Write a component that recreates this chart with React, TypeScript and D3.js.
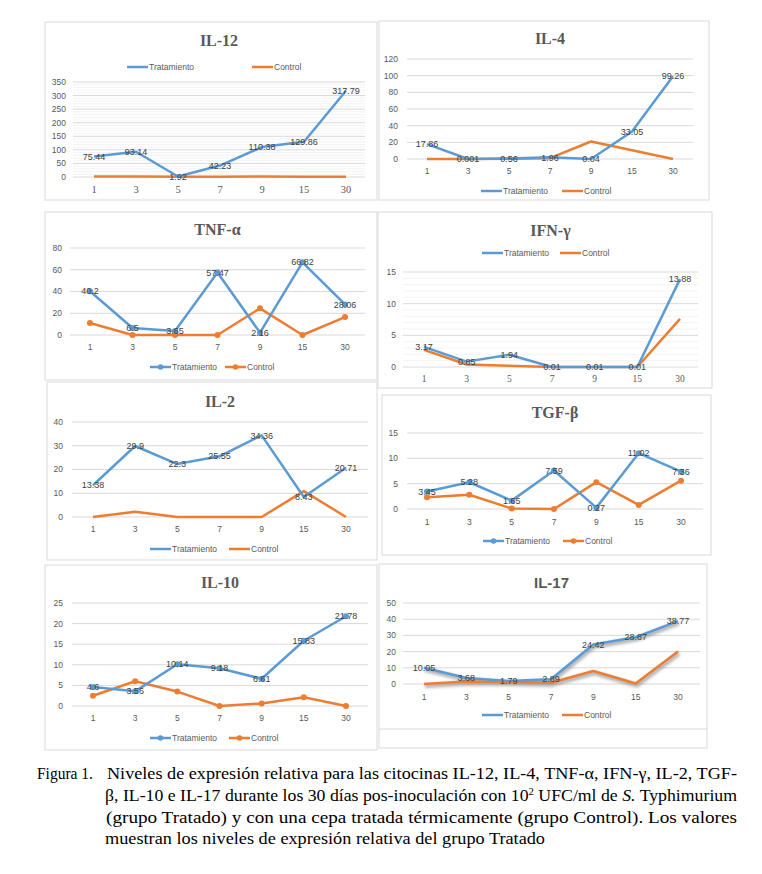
import React from "react";
import * as d3 from "d3";

const days = ["1", "3", "5", "7", "9", "15", "30"];

const il12Trat = [75.44, 93.14, 1.92, 42.23, 110.38, 129.86, 317.79];
const il12Ctrl = [2, 1.5, 1, 1, 1.5, 1, 0.5];
const il12Labels = ["75.44", "93.14", "1.92", "42.23", "110.38", "129.86", "317.79"];

const il4Trat = [17.86, 0.001, 0.56, 1.96, 0.04, 33.05, 99.26];
const il4Ctrl = [0, 0, 0.4, 1, 21, 10.5, 0];
const il4Labels = ["17.86", "0.001", "0.56", "1.96", "0.04", "33.05", "99.26"];

const tnfTrat = [40.2, 6.5, 3.65, 57.47, 2.16, 66.82, 28.06];
const tnfCtrl = [11, 0, 0, 0, 24.5, 0, 16.5];
const tnfLabels = ["40.2", "6.5", "3.65", "57.47", "2.16", "66.82", "28.06"];

const ifnTrat = [3.17, 0.85, 1.94, 0.01, 0.01, 0.01, 13.88];
const ifnCtrl = [2.7, 0.4, 0.2, 0, 0, 0, 7.6];
const ifnLabels = ["3.17", "0.85", "1.94", "0.01", "0.01", "0.01", "13.88"];

const il2Trat = [13.38, 29.9, 22.3, 25.55, 34.36, 8.43, 20.71];
const il2Ctrl = [0, 2.2, 0, 0, 0, 10.9, 0];
const il2Labels = ["13.38", "29.9", "22.3", "25.55", "34.36", "8.43", "20.71"];

const tgfTrat = [3.45, 5.28, 1.65, 7.59, 0.27, 11.02, 7.36];
const tgfCtrl = [2.3, 2.8, 0.1, 0, 5.3, 0.8, 5.6];
const tgfLabels = ["3.45", "5.28", "1.65", "7.59", "0.27", "11.02", "7.36"];

const il10Trat = [4.6, 3.56, 10.14, 9.18, 6.61, 15.83, 21.78];
const il10Ctrl = [2.5, 6, 3.5, 0, 0.6, 2.1, 0];
const il10Labels = ["4.6", "3.56", "10.14", "9.18", "6.61", "15.83", "21.78"];

const il17Trat = [10.05, 3.68, 1.79, 2.89, 24.42, 28.87, 38.77];
const il17Ctrl = [0, 1.5, 1.3, 0.8, 8, 0.3, 20];
const il17Labels = ["10.05", "3.68", "1.79", "2.89", "24.42", "28.87", "38.77"];

const BLUE = "#5b9bd5";
const ORANGE = "#ed7d31";
const GRID = "#d9d9d9";
const TXT = "#595959";
const SANS = "'Liberation Sans', Arial, sans-serif";
const SERIF = "'Liberation Serif', 'Times New Roman', serif";

type Panel = {
  title: string;
  titleFont: string;
  box: [number, number, number, number];
  extraLine?: number;
  titleY: number;
  yRange: [number, number];
  yMax: number;
  step: number;
  minor?: number;
  grid: [number, number];
  cat: [number, number];
  xLabelY: number;
  xLabelFont: string;
  xLabelSize: number;
  yLabelX: number;
  legendY: number;
  legendX: [number, number];
  markers: boolean;
  shadow: boolean;
  trat: number[];
  ctrl: number[];
  labels: string[];
};

const panels: Panel[] = [
  { title: "IL-12", titleFont: SERIF, box: [45, 22, 377, 200], titleY: 40, yRange: [177, 82], yMax: 350, step: 50, minor: 10,
    grid: [73, 365], cat: [94, 346], xLabelY: 189, xLabelFont: SERIF, xLabelSize: 10.5, yLabelX: 66, legendY: 67, legendX: [127, 252],
    markers: false, shadow: false, trat: il12Trat, ctrl: il12Ctrl, labels: il12Labels },
  { title: "IL-4", titleFont: SERIF, box: [379, 21, 709, 200], titleY: 38, yRange: [159, 59], yMax: 120, step: 20,
    grid: [407, 693], cat: [427, 673], xLabelY: 171, xLabelFont: SANS, xLabelSize: 8.5, yLabelX: 398, legendY: 191, legendX: [481, 562],
    markers: false, shadow: false, trat: il4Trat, ctrl: il4Ctrl, labels: il4Labels },
  { title: "TNF-α", titleFont: SERIF, box: [45, 212, 377, 380], titleY: 229, yRange: [335, 248], yMax: 80, step: 20,
    grid: [70, 365], cat: [90, 345], xLabelY: 347, xLabelFont: SANS, xLabelSize: 8.5, yLabelX: 62, legendY: 367, legendX: [150, 225],
    markers: true, shadow: false, trat: tnfTrat, ctrl: tnfCtrl, labels: tnfLabels },
  { title: "IFN-γ", titleFont: SERIF, box: [378, 212, 712, 388], titleY: 230, yRange: [367, 272], yMax: 15, step: 5, minor: 1,
    grid: [403, 698], cat: [424, 680], xLabelY: 379, xLabelFont: SERIF, xLabelSize: 9.5, yLabelX: 396, legendY: 253, legendX: [482, 560],
    markers: false, shadow: false, trat: ifnTrat, ctrl: ifnCtrl, labels: ifnLabels },
  { title: "IL-2", titleFont: SERIF, box: [47, 382, 377, 560], titleY: 401, yRange: [517, 422], yMax: 40, step: 10,
    grid: [72, 368], cat: [93, 346], xLabelY: 529, xLabelFont: SANS, xLabelSize: 8.5, yLabelX: 63, legendY: 549, legendX: [150, 229],
    markers: false, shadow: false, trat: il2Trat, ctrl: il2Ctrl, labels: il2Labels },
  { title: "TGF-β", titleFont: SERIF, box: [382, 395, 711, 555], titleY: 412, yRange: [509, 433], yMax: 15, step: 5,
    grid: [407, 703], cat: [427, 681], xLabelY: 522, xLabelFont: SANS, xLabelSize: 8.5, yLabelX: 398, legendY: 541, legendX: [483, 563],
    markers: true, shadow: false, trat: tgfTrat, ctrl: tgfCtrl, labels: tgfLabels },
  { title: "IL-10", titleFont: SERIF, box: [45, 565, 377, 750], titleY: 582, yRange: [706, 603], yMax: 25, step: 5,
    grid: [72, 368], cat: [93, 346], xLabelY: 718, xLabelFont: SANS, xLabelSize: 8.5, yLabelX: 63, legendY: 738, legendX: [150, 229],
    markers: true, shadow: false, trat: il10Trat, ctrl: il10Ctrl, labels: il10Labels },
  { title: "IL-17", titleFont: SANS, box: [379, 564, 707, 748], extraLine: 729, titleY: 583, yRange: [684, 603], yMax: 50, step: 10,
    grid: [403, 700], cat: [424, 678], xLabelY: 697, xLabelFont: SANS, xLabelSize: 8.5, yLabelX: 396, legendY: 715, legendX: [482, 562],
    markers: false, shadow: true, trat: il17Trat, ctrl: il17Ctrl, labels: il17Labels },
];

function ChartPanel({ p, idx }: { p: Panel; idx: number }) {
  const x = d3.scalePoint<string>().domain(days).range(p.cat);
  const y = d3.scaleLinear().domain([0, p.yMax]).range(p.yRange);
  const ticks = d3.range(0, p.yMax + 0.001, p.step);
  const minorTicks = p.minor ? d3.range(0, p.yMax + 0.001, p.minor).filter((v) => Math.abs(v / p.step - Math.round(v / p.step)) > 1e-6) : [];
  const line = d3.line<number>().x((_, i) => x(days[i]) as number).y((v) => y(v));
  const [bx0, by0, bx1, by1] = p.box;
  const legendItem = (lx: number, color: string, label: string) => (
    <g>
      <line x1={lx} x2={lx + 21} y1={p.legendY} y2={p.legendY} stroke={color} strokeWidth={2.5} />
      {p.markers && <circle cx={lx + 10.5} cy={p.legendY} r={2.8} fill={color} />}
      <text x={lx + 22} y={p.legendY} dy="0.35em" fontSize={8.5} fill={TXT} fontFamily={SANS}>{label}</text>
    </g>
  );
  return (
    <g>
      <rect x={bx0} y={by0} width={bx1 - bx0} height={by1 - by0} fill="#fff" stroke={GRID} strokeWidth={1} />
      {p.extraLine && <line x1={bx0} x2={bx1} y1={p.extraLine} y2={p.extraLine} stroke={GRID} />}
      <text x={(p.grid[0] + p.grid[1]) / 2} y={p.titleY} dy="0.35em" textAnchor="middle" fontSize={p.titleFont === SANS ? 15 : 16}
        fontWeight="bold" fill={TXT} fontFamily={p.titleFont}>{p.title}</text>
      {minorTicks.map((t) => (
        <line key={"m" + t} x1={p.grid[0]} x2={p.grid[1]} y1={y(t)} y2={y(t)} stroke="#f0f0f0" strokeWidth={0.8} />
      ))}
      {ticks.map((t) => (
        <g key={"t" + t}>
          <line x1={p.grid[0]} x2={p.grid[1]} y1={y(t)} y2={y(t)} stroke={GRID} strokeWidth={1} />
          <text x={p.yLabelX} y={y(t)} dy="0.35em" textAnchor="end" fontSize={8.5} fill={TXT} fontFamily={SANS}>{t}</text>
        </g>
      ))}
      {days.map((d) => (
        <text key={"x" + d} x={x(d)} y={p.xLabelY} dy="0.35em" textAnchor="middle" fontSize={p.xLabelSize} fill={TXT}
          fontFamily={p.xLabelFont}>{d}</text>
      ))}
      {p.shadow && (
        <g filter={`url(#blur${idx})`} opacity={0.55}>
          <path d={line(p.trat) || ""} transform="translate(1,2)" fill="none" stroke="#6f6f6f" strokeWidth={4} />
          <path d={line(p.ctrl) || ""} transform="translate(1,2)" fill="none" stroke="#6f6f6f" strokeWidth={4} />
        </g>
      )}
      <path d={line(p.ctrl) || ""} fill="none" stroke={ORANGE} strokeWidth={2.5} strokeLinejoin="round" />
      <path d={line(p.trat) || ""} fill="none" stroke={BLUE} strokeWidth={2.5} strokeLinejoin="round" />
      {p.markers && p.ctrl.map((v, i) => <circle key={"c" + i} cx={x(days[i])} cy={y(v)} r={3} fill={ORANGE} />)}
      {p.markers && p.trat.map((v, i) => <circle key={"b" + i} cx={x(days[i])} cy={y(v)} r={3} fill={BLUE} />)}
      {p.trat.map((v, i) => (
        <text key={"l" + i} x={x(days[i])} y={y(v)} dy="0.35em" textAnchor="middle" fontSize={9} fill="#404040"
          fontFamily={SANS}>{p.labels[i]}</text>
      ))}
      {legendItem(p.legendX[0], BLUE, "Tratamiento")}
      {legendItem(p.legendX[1], ORANGE, "Control")}
    </g>
  );
}

export default function App() {
  return (
    <svg width={762} height={874} style={{ position: "absolute", left: 0, top: 0, background: "#fff" }}>
      <defs>
        {panels.map((_, i) => (
          <filter key={i} id={`blur${i}`} x="-10%" y="-50%" width="120%" height="200%">
            <feGaussianBlur stdDeviation={1.5} />
          </filter>
        ))}
      </defs>
      <rect x={0} y={0} width={762} height={874} fill="#fff" />
      {panels.map((p, i) => <ChartPanel key={p.title} p={p} idx={i} />)}
      <g fontFamily={SERIF} fontSize={16.5} fill="#000">
        <text x={37} y={779} textLength={56} lengthAdjust="spacingAndGlyphs">Figura 1.</text>
        <text x={107} y={779} textLength={630} lengthAdjust="spacingAndGlyphs">Niveles de expresión relativa para las citocinas IL-12, IL-4, TNF-α, IFN-γ, IL-2, TGF-</text>
        <text x={105} y={801} textLength={632} lengthAdjust="spacingAndGlyphs">β, IL-10 e IL-17 durante los 30 días pos-inoculación con 10<tspan fontSize={10} dy={-6}>2</tspan><tspan dy={6}> UFC/ml de </tspan><tspan fontStyle="italic">S.</tspan> Typhimurium</text>
        <text x={106} y={823} textLength={631} lengthAdjust="spacingAndGlyphs">(grupo Tratado) y con una cepa tratada térmicamente (grupo Control). Los valores</text>
        <text x={105} y={844} textLength={440} lengthAdjust="spacingAndGlyphs">muestran los niveles de expresión relativa del grupo Tratado</text>
      </g>
    </svg>
  );
}
